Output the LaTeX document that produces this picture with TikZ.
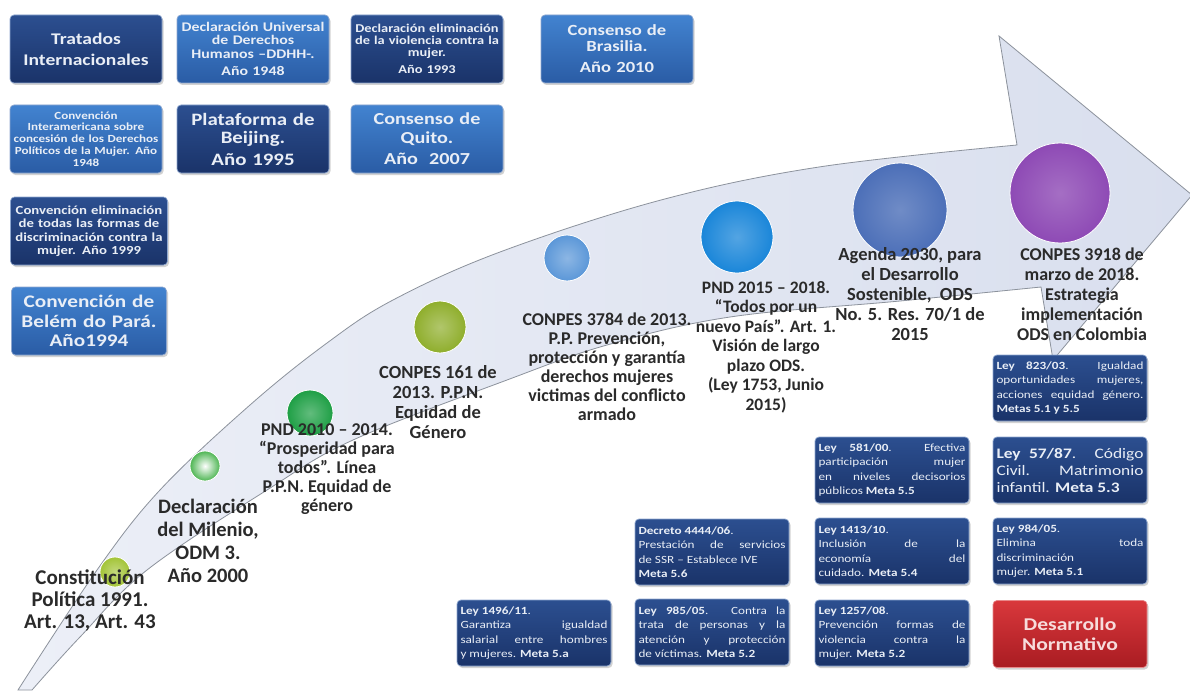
\documentclass[tikz,border=0pt]{standalone}
\usepackage{fontspec}
\setmainfont{Carlito}
\newfontfamily\boxfont{Carlito}[FakeStretch=1.2]
\usetikzlibrary{shadows}
\hyphenpenalty=10000
\tolerance=9999
\emergencystretch=3em
\hbadness=10000

\definecolor{arrowfill}{HTML}{D9DFEE}
\definecolor{arrowlight}{HTML}{ECEFF7}
\definecolor{arrowline}{HTML}{8C929C}
\definecolor{navytop}{HTML}{2C4F90}
\definecolor{navybot}{HTML}{1A3369}
\definecolor{brighttop}{HTML}{4283D0}
\definecolor{brightbot}{HTML}{2A5CA5}
\definecolor{rimblue}{HTML}{8EA7CF}
\definecolor{boxtext}{HTML}{E9EEF6}
\definecolor{labeltext}{HTML}{2A2A2A}
\definecolor{redtop}{HTML}{D9383C}
\definecolor{redbot}{HTML}{A91C22}
\definecolor{redtext}{HTML}{F7DCDC}
\definecolor{yellowgreen}{HTML}{A3C437}
\definecolor{lightgreen}{HTML}{4DB552}
\definecolor{deepgreen}{HTML}{1E9F45}
\definecolor{olive}{HTML}{8FAE2C}
\definecolor{skyblue}{HTML}{5B97D8}
\definecolor{brightblue}{HTML}{1A86D9}
\definecolor{slateblue}{HTML}{4C6FB8}
\definecolor{purple}{HTML}{8E4AB5}

\tikzset{
  navybox/.style={draw=rimblue, line width=0.7pt, rounded corners=4pt,
    top color=navytop, bottom color=navybot, text=boxtext,
    minimum width=152pt, minimum height=68pt, inner sep=2pt,
    text width=146pt, align=center,
    drop shadow={opacity=0.35, shadow xshift=1.5pt, shadow yshift=-2pt}},
  brightbox/.style={navybox, top color=brighttop, bottom color=brightbot},
  leybox/.style={navybox, minimum width=154pt, minimum height=66pt, align=justify,
    text width=147pt, font=\boxfont\fontsize{11}{14.5}\selectfont},
  redbox/.style={navybox, minimum width=154pt, minimum height=67pt, draw=redtop!60!white,
    top color=redtop, bottom color=redbot, text=redtext},
  stage/.style={text=labeltext, align=center, anchor=north, inner sep=0pt},
  dot/.style={circle, inner sep=0pt, minimum size=#1, draw=white, line width=0.8pt}
}

\begin{document}
\begin{tikzpicture}[x=1pt,y=-1pt]
\useasboundingbox[fill=white] (0,0) rectangle (1190,690);

% big curved arrow
\draw[draw=arrowline, line width=0.8pt, left color=arrowlight, right color=arrowfill]
  plot[smooth, tension=0.6] coordinates {(18,690) (97,570) (160,490) (250,405) (327,343)
    (393,300) (500,252) (661,200) (819,167) (1017,145)}
  -- (999,36) -- (1192,195) -- (1053,360) -- (1041,287)
  -- plot[smooth, tension=0.6] coordinates {(1041,287) (900,301) (730,317) (607,345)
    (507,380) (353,440) (267,490) (147,570) (80,637) (32,690)}
  -- cycle;

% stages on the arrow
\node[dot=30pt, inner color=yellowgreen!65!white, outer color=yellowgreen] (c1991) at (115,572) {};
\node[dot=30pt, inner color=white, outer color=lightgreen] (c2000) at (205,466) {};
\node[dot=46pt, inner color=deepgreen!70!white, outer color=deepgreen] (c2010) at (310,413) {};
\node[dot=52pt, inner color=olive!70!white, outer color=olive] (c161) at (440,327) {};
\node[dot=46pt, inner color=skyblue!70!white, outer color=skyblue] (c3784) at (567,258) {};
\node[dot=72pt, inner color=brightblue!75!white, outer color=brightblue] (c2015) at (737,237) {};
\node[dot=94pt, inner color=slateblue!80!white, outer color=slateblue] (c2030) at (900,210) {};
\node[dot=100pt, inner color=purple!80!white, outer color=purple] (c3918) at (1060,193) {};

\node[stage, font=\bfseries\fontsize{21}{22}\selectfont] (t1991) at (90,570)
  {Constitución\\Política 1991.\\Art. 13, Art. 43};
\node[stage, font=\bfseries\fontsize{20.5}{23}\selectfont] (t2000) at (208,499)
  {Declaración\\del Milenio,\\ODM 3.\\Año 2000};
\node[stage, font=\bfseries\fontsize{18}{19}\selectfont] (t2010) at (327,423)
  {PND 2010 – 2014.\\“Prosperidad para\\todos”. Línea\\P.P.N. Equidad de\\género};
\node[stage, font=\bfseries\fontsize{18.5}{20}\selectfont] (t161) at (438,365)
  {CONPES 161 de\\2013. P.P.N.\\Equidad de\\Género};
\node[stage, font=\bfseries\fontsize{18}{19}\selectfont] (t3784) at (607,313)
  {CONPES 3784 de 2013.\\P.P. Prevención,\\protección y garantía\\derechos mujeres\\victimas del conflicto\\armado};
\node[stage, font=\bfseries\fontsize{17.5}{19.5}\selectfont] (t2015) at (766,281)
  {PND 2015 – 2018.\\“Todos por un\\nuevo País”. Art. 1.\\Visión de largo\\plazo ODS.\\(Ley 1753, Junio\\2015)};
\node[stage, font=\bfseries\fontsize{18.5}{20}\selectfont] (t2030) at (910,247)
  {Agenda 2030, para\\el Desarrollo\\Sostenible,\ \ ODS\\No. 5. Res. 70/1 de\\2015};
\node[stage, font=\bfseries\fontsize{18}{20}\selectfont] (t3918) at (1082,248)
  {CONPES 3918 de\\marzo de 2018.\\Estrategia\\implementación\\ODS en Colombia};

% international treaties
\node[navybox, font=\boxfont\bfseries\fontsize{16.3}{21}\selectfont] (tratados) at (86,49)
  {Tratados\\Internacionales};
\node[brightbox, font=\boxfont\bfseries\fontsize{13.2}{13.5}\selectfont] (dudh) at (253,49)
  {Declaración Universal\\de Derechos\\Humanos –DDHH-.\\[4pt]Año 1948};
\node[navybox, font=\boxfont\bfseries\fontsize{12}{11.8}\selectfont] (violencia) at (427,49)
  {Declaración eliminación\\de la violencia contra la\\mujer.\\[6pt]Año 1993};
\node[brightbox, font=\boxfont\bfseries\fontsize{15.5}{16}\selectfont] (brasilia) at (617,49)
  {Consenso de\\Brasilia.\\[5pt]Año 2010};
\node[brightbox, font=\boxfont\bfseries\fontsize{10.9}{11.8}\selectfont] (interamericana) at (86,139)
  {Convención\\Interamericana sobre\\concesión de los Derechos\\Políticos de la Mujer. Año\\1948};
\node[navybox, font=\boxfont\bfseries\fontsize{17.4}{18.5}\selectfont] (beijing) at (253,139)
  {Plataforma de\\Beijing.\\[3pt]Año 1995};
\node[brightbox, font=\boxfont\bfseries\fontsize{16.8}{18.5}\selectfont] (quito) at (427,139)
  {Consenso de\\Quito.\\[3pt]Año\ \ 2007};
\node[navybox, minimum width=155pt, text width=153pt, font=\boxfont\bfseries\fontsize{12.3}{13.5}\selectfont] (cedaw) at (89,231)
  {Convención eliminación\\de todas las formas de\\discriminación contra la\\mujer. Año 1999};
\node[brightbox, minimum width=155pt, font=\boxfont\bfseries\fontsize{17.7}{19.5}\selectfont] (belem) at (89,321)
  {Convención de\\Belém do Pará.\\Año1994};

% national laws
\node[leybox] (ley823) at (1070,388)
  {\textbf{Ley 823/03}. Igualdad\linebreak oportunidades mujeres,\linebreak acciones equidad género.\linebreak \textbf{Metas 5.1 y 5.5}};
\node[leybox] (ley581) at (892,470)
  {\textbf{Ley 581/00}. Efectiva\linebreak participación mujer\linebreak en niveles decisorios\linebreak públicos \textbf{Meta 5.5}};
\node[leybox, font=\boxfont\fontsize{14.5}{17}\selectfont] (ley57) at (1070,470)
  {\textbf{Ley 57/87}. Código\linebreak Civil. Matrimonio\linebreak infantil. \textbf{Meta 5.3}};
\node[leybox] (ley1413) at (892,551)
  {\textbf{Ley 1413/10}.\\Inclusión de la\linebreak economía del\linebreak cuidado. \textbf{Meta 5.4}};
\node[leybox] (ley984) at (1070,551)
  {\textbf{Ley 984/05}.\\Elimina toda\linebreak discriminación\\mujer. \textbf{Meta 5.1}};
\node[leybox] (ley1257) at (892,633)
  {\textbf{Ley 1257/08}.\\Prevención formas de\linebreak violencia contra la\linebreak mujer. \textbf{Meta 5.2}};
\node[redbox, font=\boxfont\bfseries\fontsize{18}{20}\selectfont, align=center] (normativo) at (1070,634)
  {Desarrollo\\Normativo};
\node[leybox] (dec4444) at (712,552)
  {\textbf{Decreto 4444/06}.\\Prestación de servicios\linebreak de SSR – Establece IVE\\\textbf{Meta 5.6}};
\node[leybox] (ley1496) at (534,633)
  {\textbf{Ley 1496/11}.\\Garantiza igualdad\linebreak salarial entre hombres\linebreak y mujeres. \textbf{Meta 5.a}};
\node[leybox] (ley985) at (712,632)
  {\textbf{Ley 985/05}. Contra la\linebreak trata de personas y la\linebreak atención y protección\linebreak de víctimas. \textbf{Meta 5.2}};
\end{tikzpicture}
\end{document}
